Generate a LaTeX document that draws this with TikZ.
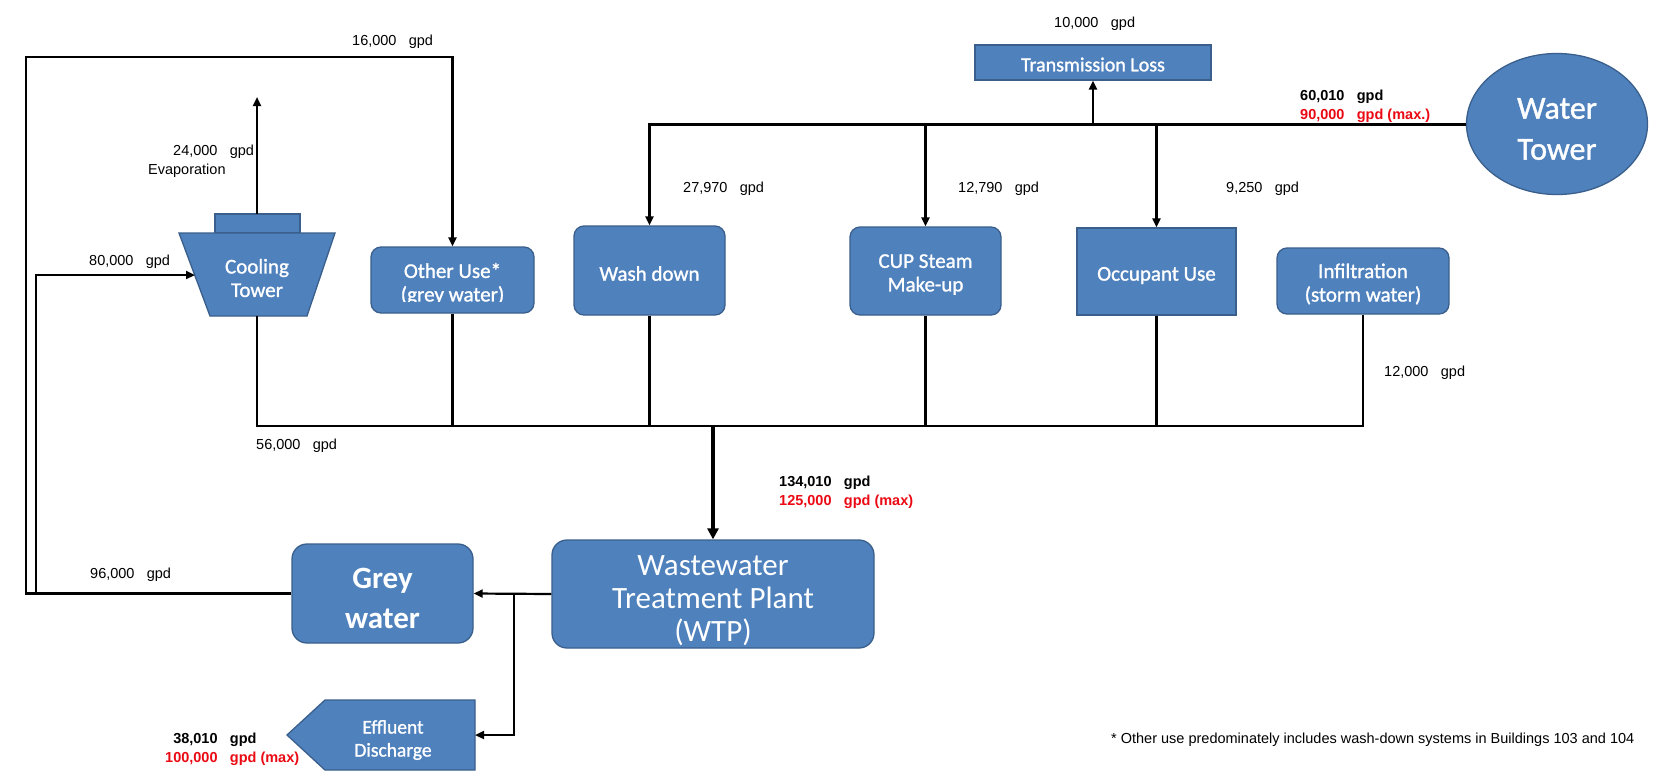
\documentclass[tikz,border=0pt]{standalone}
\usepackage{fontspec}
\setmainfont{Carlito}
\newfontfamily\calsemi[FakeBold=1.2]{Carlito}
\newfontfamily\arialf{Liberation Sans}
\usetikzlibrary{arrows.meta,shapes.geometric}
\definecolor{boxblue}{RGB}{79,129,189}
\definecolor{boxedge}{RGB}{58,95,140}
\definecolor{gred}{RGB}{235,10,20}
\newcommand\boxfs[2]{\fontsize{#1}{#2}\selectfont}
\newcommand\gsp{\hspace{0.85em}}
\tikzset{
  conn/.style={line width=2.2pt},
  arr/.style={conn, -{Triangle[length=9pt,width=8pt]}},
  supply/.style={line width=3pt},
  thickarr/.style={line width=4.5pt, -{Triangle[length=11pt,width=11pt]}},
  blkshape/.style={fill=boxblue, draw=boxedge, line width=1.3pt},
  blk/.style={blkshape, inner sep=0pt},
  rblk/.style={blk, rounded corners=10pt},
  btxt/.style={text=white, align=center, inner sep=0pt, font=\calsemi\boxfs{21}{23.5}},
  lab/.style={font=\arialf\fontsize{14.5}{16}\selectfont, inner sep=0pt, anchor=west, yshift=-2.5pt},
  blab/.style={lab, font=\arialf\bfseries\fontsize{14.5}{16}\selectfont},
}
\begin{document}
\begin{tikzpicture}[x=1pt,y=-1pt]
\useasboundingbox (0,0) rectangle (1666,772);
\fill[white] (0,0) rectangle (1666,772);

% boxes
\node[rblk, minimum width=163pt, minimum height=66pt] (ou) at (452.5,280) {};
\begin{scope}
  \clip (371,247) rectangle (534,301);
  \node[btxt] (outxt) at (452.5,284) {Other Use*\\(grey water)};
\end{scope}
\node[rblk, minimum width=151pt, minimum height=89pt] (wd) at (649.5,270.5) {};
\node[btxt] (wdt) at (649.5,273.5) {Wash down};
\node[rblk, minimum width=151pt, minimum height=88pt] (cup) at (925.5,271) {};
\node[btxt] (cupt) at (925.5,274.5) {CUP Steam\\Make-up};
\node[blk, minimum width=159pt, minimum height=87pt] (occ) at (1156.5,271.5) {};
\node[btxt] (occt) at (1156.5,275.5) {Occupant Use};
\node[rblk, minimum width=172pt, minimum height=66pt] (inf) at (1363,281) {};
\node[btxt] (inft) at (1363,284) {Infiltration\\(storm water)};
\node[blk, minimum width=236pt, minimum height=35pt] (tl) at (1093,62.5) {};
\node[btxt, font=\calsemi\boxfs{20}{22}] (tlt) at (1093,64.5) {Transmission Loss};
\node[blk, ellipse, minimum width=181pt, minimum height=141pt] (wt) at (1557,124) {};
\node[btxt, font=\calsemi\boxfs{32}{41}] (wtt) at (1557,129) {Water\\Tower};
\node[rblk, rounded corners=15pt, minimum width=322pt, minimum height=108pt] (wtp) at (713,594) {};
\node[btxt, font=\boxfs{31}{33}] (wtpt) at (713,601) {Wastewater\\Treatment Plant\\(WTP)};
\node[rblk, rounded corners=15pt, minimum width=181pt, minimum height=99pt] (gw) at (382.5,593.5) {};
\node[btxt, font=\bfseries\boxfs{31}{40}] (gwt) at (382.5,598) {Grey\\water};

% cooling tower
\filldraw[blkshape] (215,214) rectangle (300,233);
\filldraw[blkshape] (179,233) -- (335,233) -- (307,316) -- (210,316) -- cycle;
\node[btxt] (ct) at (257,278) {Cooling\\Tower};

% effluent
\filldraw[blkshape] (287,735) -- (325,700) -- (475,700) -- (475,770) -- (325,770) -- cycle;
\node[btxt, font=\calsemi\boxfs{19.5}{23}] (eff) at (393,740) {Effluent\\Discharge};

% coordinates
\coordinate (ctTop) at (257,214);
\coordinate (evapTop) at (257,97);
\coordinate (ctIn) at (195,275);
\coordinate (ctBot) at (257,316);
\coordinate (colR) at (1363,426);
\coordinate (jn) at (514,594);
\coordinate (effE) at (475,735);
\coordinate (loopTL) at (26,57);
\coordinate (innerB) at (36,594);

% connectors
\draw[arr] (ctTop) -- (evapTop);
\draw[supply, -{Triangle[length=9pt,width=8pt]}] (wt.west) -| (wd.north);
\draw[arr] (cup.north |- wt.west) -- (cup.north);
\draw[arr] (occ.north |- wt.west) -- (occ.north);
\draw[arr] (tl.south |- wt.west) -- (tl.south);

\draw[conn] (ctBot) |- (colR) -- (inf.south);
\draw[conn] (ou.south) -- (ou.south |- colR);
\draw[conn] (wd.south) -- (wd.south |- colR);
\draw[conn] (cup.south) -- (cup.south |- colR);
\draw[conn] (occ.south) -- (occ.south |- colR);
\draw[thickarr] (wtp.north |- colR) -- (wtp.north);

\draw[arr] (wtp.west) -- (gw.east);
\draw[arr] (jn) |- (effE);
\draw[arr] (gw.west) -| (loopTL) -| (ou.north);
\draw[arr] (innerB) |- (ctIn);

% labels
\node[lab] (l16) at (352,39) {16,000\gsp gpd};
\node[lab] (l24) at (173,149) {24,000\gsp gpd};
\node[lab] (lev) at (148,168) {Evaporation};
\node[lab] (l80) at (89,259) {80,000\gsp gpd};
\node[lab] (l10) at (1054,21) {10,000\gsp gpd};
\node[blab] (l60) at (1300,94) {60,010\gsp gpd};
\node[blab, text=gred] (l90) at (1300,113) {90,000\gsp gpd (max.)};
\node[lab] (l27) at (683,186) {27,970\gsp gpd};
\node[lab] (l12) at (958,186) {12,790\gsp gpd};
\node[lab] (l9) at (1226,186) {9,250\gsp gpd};
\node[lab] (l12k) at (1384,370) {12,000\gsp gpd};
\node[lab] (l56) at (256,443) {56,000\gsp gpd};
\node[blab] (l134) at (779,480) {134,010\gsp gpd};
\node[blab, text=gred] (l125) at (779,499) {125,000\gsp gpd (max)};
\node[lab] (l96) at (90,572) {96,000\gsp gpd};
\node[blab] (l38) at (165,737) {\phantom{1}38,010\gsp gpd};
\node[blab, text=gred] (l100) at (165,756) {100,000\gsp gpd (max)};
\node[lab] (fn) at (1111,737) {* Other use predominately includes wash-down systems in Buildings 103 and 104};
\end{tikzpicture}
\end{document}
